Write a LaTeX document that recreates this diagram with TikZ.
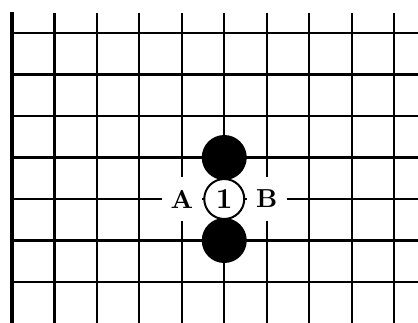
\documentclass[tikz,border=0pt]{standalone}
\usepackage{fontspec}
\begin{document}
\begin{tikzpicture}[x=1pt,y=-1pt,
  gridline/.style={line width=2.2pt},
  edgeline/.style={line width=3.4pt},
  blackstone/.style={circle,fill=black,minimum size=45pt,inner sep=0pt},
  whitestone/.style={circle,draw=black,line width=2pt,fill=white,minimum size=40pt,inner sep=0pt},
  pointlabel/.style={fill=white,minimum width=40pt,minimum height=44pt,inner sep=0pt}]
\useasboundingbox (0,0) rectangle (418,323);
\fill[white] (0,0) rectangle (418,323);
% horizontal lines
\foreach \j in {0,...,6} {
  \draw[gridline] (12,{33+41.5*\j}) -- (418,{33+41.5*\j});
}
% vertical lines
\foreach \i in {1,...,9} {
  \draw[gridline] ({12+42.45*\i},13) -- ({12+42.45*\i},323);
}
% left edge of the board
\draw[edgeline] (12,12) -- (12,323);
% stones
\node[blackstone] (b1) at (224.25,157.5) {};
\node[blackstone] (b2) at (224.25,240.5) {};
\node[pointlabel] (A) at (181.8,199) {\scalebox{2.6}{\bfseries A}};
\node[pointlabel] (B) at (266.7,199) {\scalebox{2.6}{\bfseries B}};
\node[whitestone] (w1) at (224.25,199) {\scalebox{2.9}{\bfseries 1}};
\end{tikzpicture}
\end{document}
